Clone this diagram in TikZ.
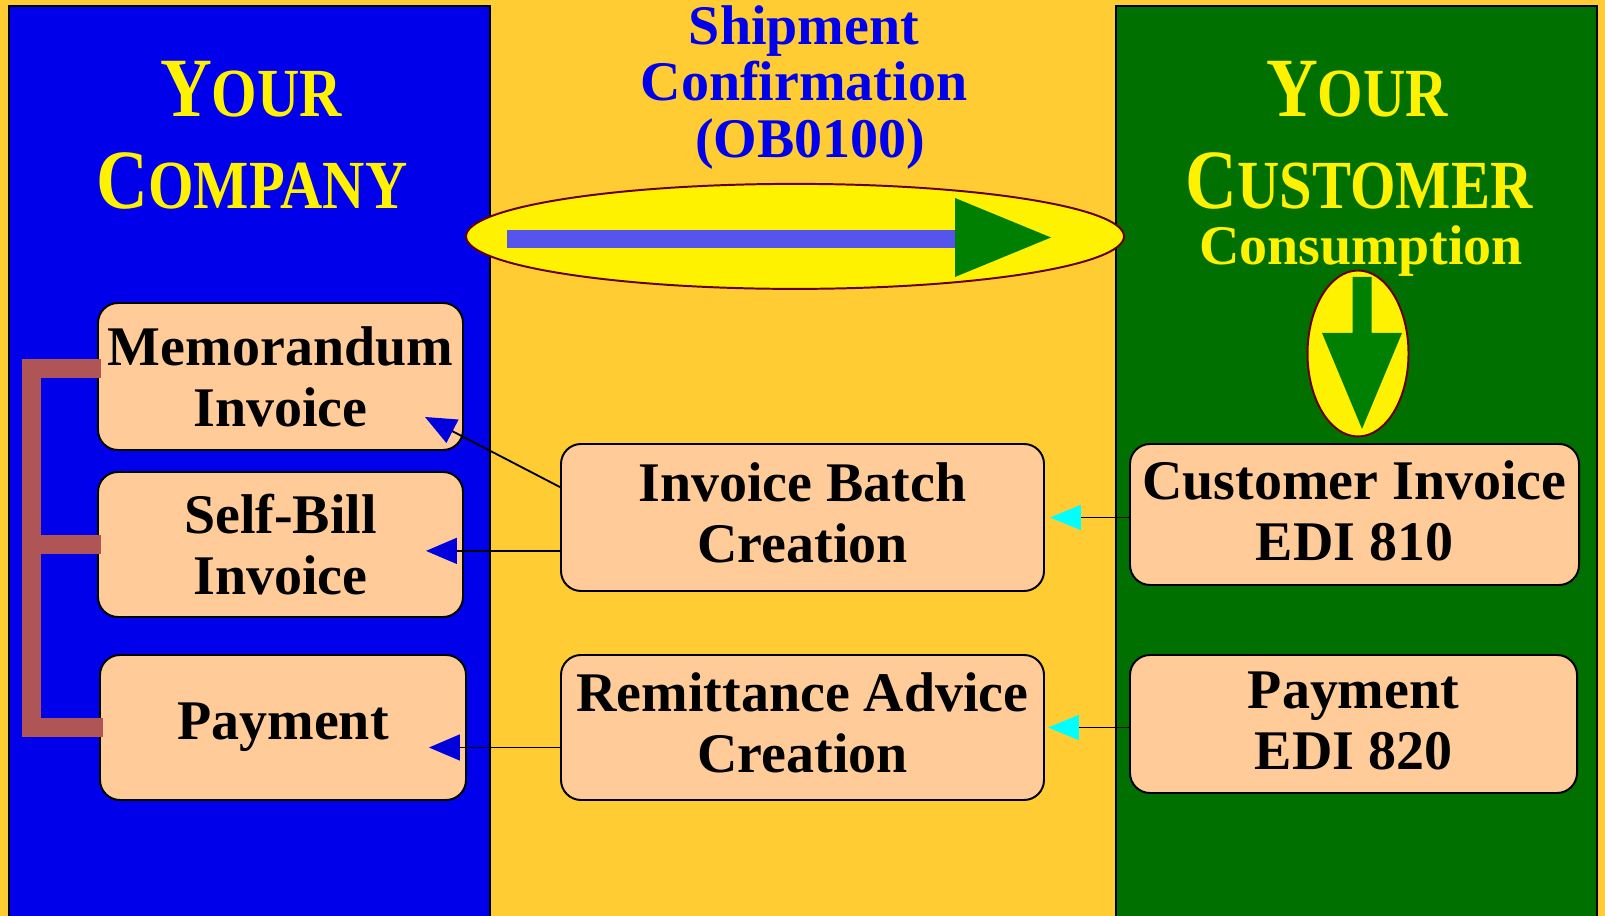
\documentclass[tikz,border=0pt]{standalone}
\usepackage{fontspec}
\setmainfont{Liberation Serif}
\newfontfamily\titlefont[FakeStretch=0.85]{Liberation Serif}
\usepackage{xcolor}
\usepackage{tikz}
\usetikzlibrary{arrows.meta,positioning,calc}
\definecolor{bgorange}{RGB}{255,204,51}
\definecolor{compblue}{RGB}{0,0,235}
\definecolor{custgreen}{RGB}{0,112,0}
\definecolor{boxpeach}{RGB}{255,204,153}
\definecolor{ovalrim}{RGB}{102,0,0}
\definecolor{barblue}{RGB}{85,85,238}
\definecolor{arrgreen}{RGB}{0,128,0}
\definecolor{brkbrown}{RGB}{175,85,85}
\definecolor{tipblue}{RGB}{0,0,221}
\definecolor{tipcyan}{RGB}{0,255,255}
\newcommand{\capbig}[1]{{\fontsize{60}{66}\selectfont #1}}
\newcommand{\capsmall}[1]{{\fontsize{49}{54}\selectfont #1}}

\begin{document}
\begin{tikzpicture}[x=1cm,y=1cm, font=\fontsize{39.8}{43.4}\selectfont\bfseries,
  stepbox/.style={draw=black, line width=1.4pt, fill=boxpeach, rounded corners=0.5cm, align=center, inner sep=0pt},
  heading/.style={text=yellow, anchor=base, font=\titlefont\bfseries},
  tocompany/.style={line width=1.3pt, -{Triangle[length=0.775cm,width=0.65cm,color=tipblue,fill=tipblue]}},
  fromcustomer/.style={line width=1.3pt, -{Triangle[length=0.775cm,width=0.625cm,color=tipcyan,fill=tipcyan]}},
  bracket/.style={draw=brkbrown, line width=0.475cm}]
\useasboundingbox (0,0) rectangle (40.125,22.9);
\fill[bgorange] (0,0) rectangle (40.125,22.9);
\draw[fill=compblue, line width=1.4pt] (0.225,-0.2) rectangle (12.25,22.75);
\draw[fill=custgreen, line width=1.4pt] (27.9,-0.2) rectangle (39.925,22.75);
\node[heading] (yourco) at (6.275,19.975) {\capbig{Y}\capsmall{OUR}};
\node[heading] (company) at (6.3,17.675) {\capbig{C}\capsmall{OMPANY}};
\node[heading] (yourcu) at (33.925,19.975) {\capbig{Y}\capsmall{OUR}};
\node[heading] (customer) at (33.975,17.675) {\capbig{C}\capsmall{USTOMER}};
\node[text=yellow, anchor=base] (consume) at (34.025,16.275) {Consumption};
\node[text=compblue, anchor=base] (ship) at (20.1,21.78) {Shipment};
\node[text=compblue, anchor=base] (confirm) at (20.1,20.38) {Confirmation};
\node[text=compblue, anchor=base] (obcode) at (20.25,18.95) {(OB0100)};
% shipment oval
\draw[ovalrim, line width=1.4pt, fill=yellow] (19.875,16.99) ellipse [x radius=8.225, y radius=1.3125];
\draw[barblue, line width=0.45cm] (12.675,16.925) -- (23.9,16.925);
\fill[arrgreen] (23.875,17.95) -- (26.275,16.9625) -- (23.875,15.975) -- cycle;
% consumption oval
\draw[ovalrim, line width=1.4pt, fill=yellow] (33.95,14.0625) ellipse [x radius=1.2625, y radius=2.075];
\fill[arrgreen] (33.8125,15.975) -- (34.2875,15.975) -- (34.2875,14.575) -- (35.05,14.575)
  -- (34.05,12.175) -- (33.05,14.575) -- (33.8125,14.575) -- cycle;
\node[stepbox, minimum width=9.125cm, minimum height=3.675cm] (memo) at (7.0125,13.4875) {Memorandum\\Invoice};
\node[stepbox, minimum width=9.125cm, minimum height=3.625cm] (selfbill) at (7.0125,9.2875) {Self-Bill\\Invoice};
\node[stepbox, minimum width=9.15cm, minimum height=3.625cm] (paymt) at (7.075,4.7125) {Payment};
\node[stepbox, text depth=0.25cm, minimum width=12.075cm, minimum height=3.675cm] (batch) at (20.0625,9.9625) {Invoice Batch\\Creation};
\node[stepbox, text depth=0.25cm, minimum width=12.075cm, minimum height=3.625cm] (remit) at (20.0625,4.7125) {Remittance Advice\\Creation};
\node[stepbox, text depth=0.2cm, minimum width=11.225cm, minimum height=3.525cm] (custinv) at (33.8625,10.0375) {Customer Invoice\\EDI 810};
\node[stepbox, text depth=0.15cm, minimum width=11.175cm, minimum height=3.45cm] (edi) at (33.8375,4.8) {Payment\\EDI 820};
\coordinate (brk) at (0.7875,0);
\draw[bracket] ([xshift=0.1cm,yshift=0.2cm]memo.west) -- ([yshift=0.2cm]memo.west -| brk)
  -- (paymt.west -| brk) -- ([xshift=0.1cm]paymt.west);
\draw[bracket] (selfbill.west -| brk) -- ([xshift=0.1cm]selfbill.west);
\draw[fromcustomer, shorten >=0.125cm] (batch.east -| custinv.west) -- (batch.east);
\draw[fromcustomer, shorten >=0.075cm] (remit.east -| edi.west) -- (remit.east);
\draw[tocompany] ([yshift=0.76cm]batch.west) -- ([xshift=-0.975cm,yshift=0.85cm]memo.south east);
\draw[tocompany] ([yshift=-0.16cm]selfbill.east -| batch.west) -- ([xshift=-0.95cm,yshift=-0.16cm]selfbill.east);
\draw[tocompany] ([yshift=-0.5cm]paymt.east -| remit.west) -- ([xshift=-0.95cm,yshift=-0.5cm]paymt.east);
\end{tikzpicture}
\end{document}
